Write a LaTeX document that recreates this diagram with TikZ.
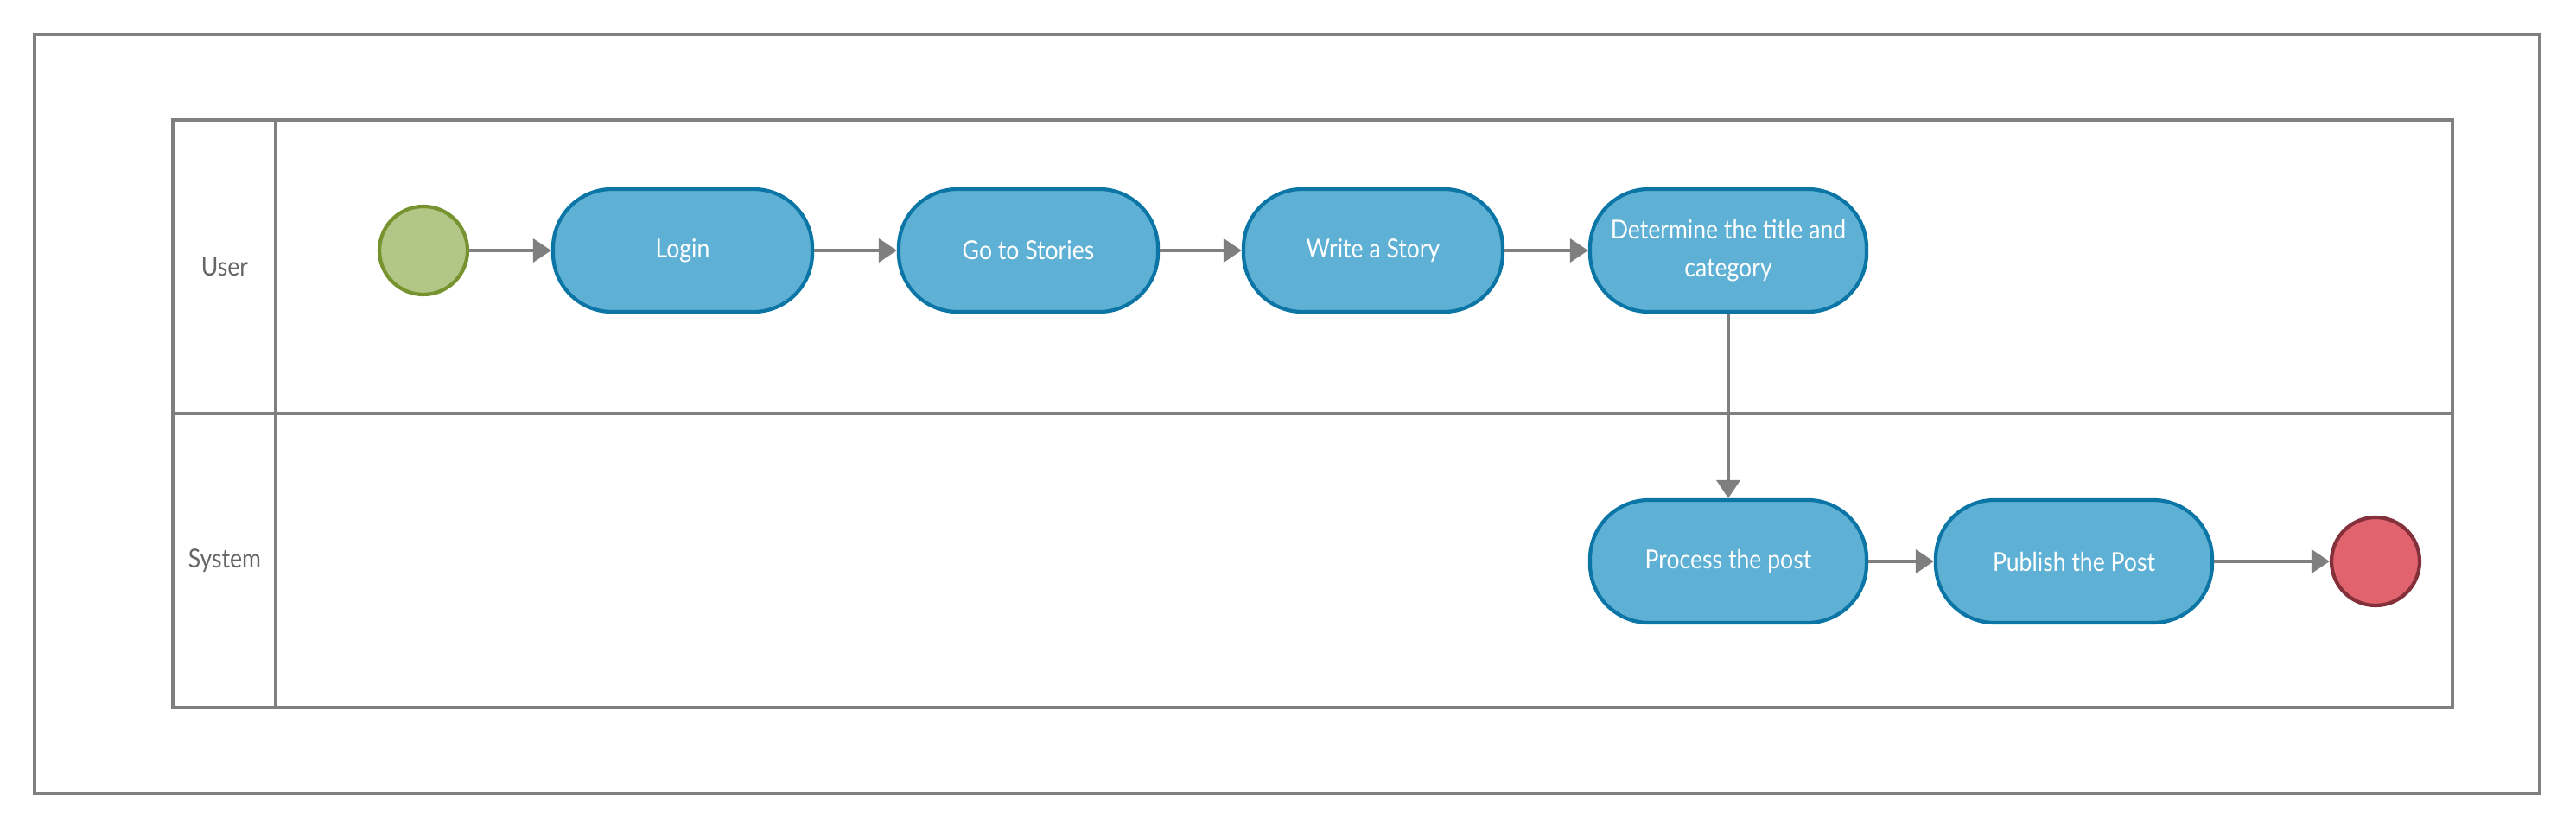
\documentclass[tikz,border=0pt]{standalone}
\usepackage{fontspec}
\setmainfont{Lato}[FakeStretch=0.88]
\usetikzlibrary{arrows.meta}
\definecolor{lanegray}{HTML}{7F7F7F}
\definecolor{labelgray}{HTML}{666666}
\definecolor{actblue}{HTML}{5FB0D5}
\definecolor{actborder}{HTML}{0B75A5}
\definecolor{startgreen}{HTML}{B2C786}
\definecolor{startborder}{HTML}{77932F}
\definecolor{endred}{HTML}{E0636E}
\definecolor{endborder}{HTML}{83303A}
\tikzset{
  frame/.style={draw=lanegray,line width=1pt},
  lane label/.style={text=labelgray,font=\fontsize{8.6}{11}\selectfont},
  activity/.style={rectangle,rounded corners=0.68cm,draw=actborder,fill=actblue,
    line width=1.2pt,minimum width=3.0cm,minimum height=1.42cm,text=white,
    inner xsep=0.1cm,align=center,font=\fontsize{8.6}{12.5}\selectfont},
  wide activity/.style={activity,minimum width=3.2cm},
  start state/.style={circle,draw=startborder,fill=startgreen,line width=1.2pt,
    minimum size=1.02cm,inner sep=0pt},
  end state/.style={circle,draw=endborder,fill=endred,line width=1.2pt,
    minimum size=1.02cm,inner sep=0pt},
  flow/.style={draw=lanegray,line width=1.1pt,-{Triangle[length=0.21cm,width=0.27cm]}}
}

\begin{document}
\begin{tikzpicture}
  \useasboundingbox (0,0) rectangle (29.81,9.61);
  % outer frame and swimlanes
  \draw[frame] (0.40,0.42) rectangle (29.39,9.21);
  \draw[frame] (2.00,1.42) rectangle (28.38,8.22);
  \draw[frame] (2.00,4.82) -- (28.38,4.82);
  \draw[frame] (3.19,1.42) -- (3.19,8.22);
  \node[lane label] (user) at (2.60,6.52) {User};
  \node[lane label] (system) at (2.60,3.12) {System};
  % user lane
  \node[start state] (init) at (4.90,6.71) {};
  \node[activity] (login) at (7.90,6.71) {Login};
  \node[activity] (stories) at (11.90,6.71) {Go to Stories};
  \node[activity] (write) at (15.89,6.71) {Write a Story};
  \node[wide activity] (title) at (20.00,6.71) {Determine the title and\\category};
  % system lane
  \node[wide activity] (process) at (20.00,3.11) {Process the post};
  \node[wide activity] (publish) at (24.00,3.11) {Publish the Post};
  \node[end state] (final) at (27.49,3.11) {};
  \draw[flow] (init)--(login);
  \draw[flow] (login)--(stories);
  \draw[flow] (stories)--(write);
  \draw[flow] (write)--(title);
  \draw[flow] (title)--(process);
  \draw[flow] (process)--(publish);
  \draw[flow] (publish)--(final);
\end{tikzpicture}
\end{document}
